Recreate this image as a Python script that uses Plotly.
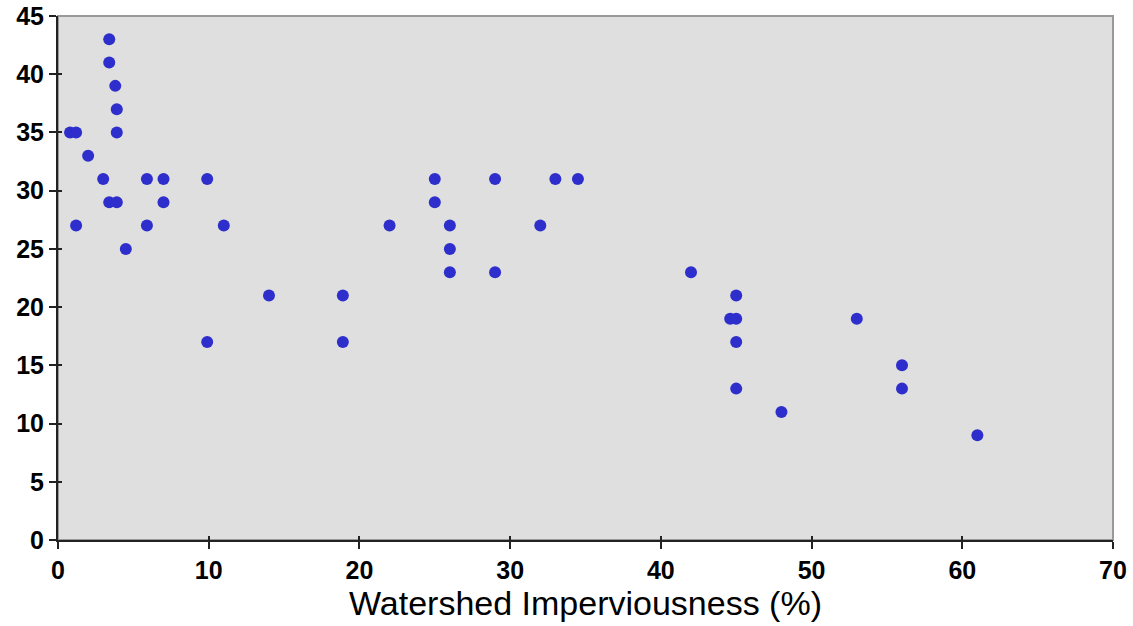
import plotly.graph_objects as go

# Data
imperviousness = [0.8, 1.2, 1.2, 2.0, 3.0, 3.4, 3.4, 3.8, 3.9, 3.9, 3.4, 3.9, 4.5,
                  5.9, 5.9, 7.0, 7.0, 9.9, 9.9, 11.0, 14.0, 18.9, 18.9, 22.0,
                  25.0, 25.0, 26.0, 26.0, 26.0, 29.0, 29.0, 32.0, 33.0, 34.5,
                  42.0, 44.6, 45.0, 45.0, 45.0, 45.0, 48.0, 53.0, 56.0, 56.0, 61.0]
score = [35, 35, 27, 33, 31, 43, 41, 39, 37, 35, 29, 29, 25,
         31, 27, 31, 29, 31, 17, 27, 21, 21, 17, 27,
         31, 29, 27, 25, 23, 31, 23, 27, 31, 31,
         23, 19, 19, 21, 17, 13, 11, 19, 15, 13, 9]

x_ticks = [0, 10, 20, 30, 40, 50, 60, 70]
y_ticks = [0, 5, 10, 15, 20, 25, 30, 35, 40, 45]
x_title = "Watershed Imperviousness (%)"

tick_font = dict(family="Liberation Sans, Arial", size=25, color="black", weight="bold")

fig = go.Figure()
fig.add_trace(go.Scatter(
    x=imperviousness, y=score, mode="markers",
    marker=dict(color="#2E2ECC", size=12, line=dict(width=0)),
    showlegend=False, hoverinfo="x+y",
))
# empty trace to carry the inner-tick overlay axes
fig.add_trace(go.Scatter(x=[], y=[], xaxis="x2", yaxis="y2", showlegend=False))

fig.update_layout(
    width=1133, height=626,
    margin=dict(l=58, r=20, t=16, b=86),
    paper_bgcolor="white",
    plot_bgcolor="#DFDFDF",
    xaxis=dict(
        range=[0, 70], tickvals=x_ticks, ticktext=[str(v) for v in x_ticks],
        showgrid=False, zeroline=False, automargin=False,
        showline=True, linecolor="#222222", linewidth=2,
        ticks="outside", ticklen=7, tickwidth=2, tickcolor="#222222",
        tickfont=tick_font,
        title=dict(text=x_title, font=dict(family="Liberation Sans, Arial", size=34, color="black"), standoff=6),
    ),
    yaxis=dict(
        range=[0, 45], tickvals=y_ticks, ticktext=[str(v) for v in y_ticks],
        showgrid=False, zeroline=False, automargin=False,
        showline=True, linecolor="#222222", linewidth=2,
        ticks="outside", ticklen=7, tickwidth=2, tickcolor="#222222",
        tickfont=tick_font,
    ),
    xaxis2=dict(
        overlaying="x", matches="x", anchor="y2", side="bottom",
        range=[0, 70], tickvals=x_ticks, showticklabels=False, automargin=False,
        showgrid=False, zeroline=False, showline=False,
        ticks="inside", ticklen=4, tickwidth=2, tickcolor="#222222",
    ),
    yaxis2=dict(
        overlaying="y", matches="y", anchor="x2", side="left",
        range=[0, 45], tickvals=y_ticks, showticklabels=False, automargin=False,
        showgrid=False, zeroline=False, showline=False,
        ticks="inside", ticklen=4, tickwidth=2, tickcolor="#222222",
    ),
    shapes=[dict(
        type="rect", xref="paper", yref="paper", x0=0, x1=1, y0=0, y1=1,
        line=dict(color="#999999", width=2), fillcolor="rgba(0,0,0,0)", layer="below",
    )],
)

fig.write_html("out.html")
